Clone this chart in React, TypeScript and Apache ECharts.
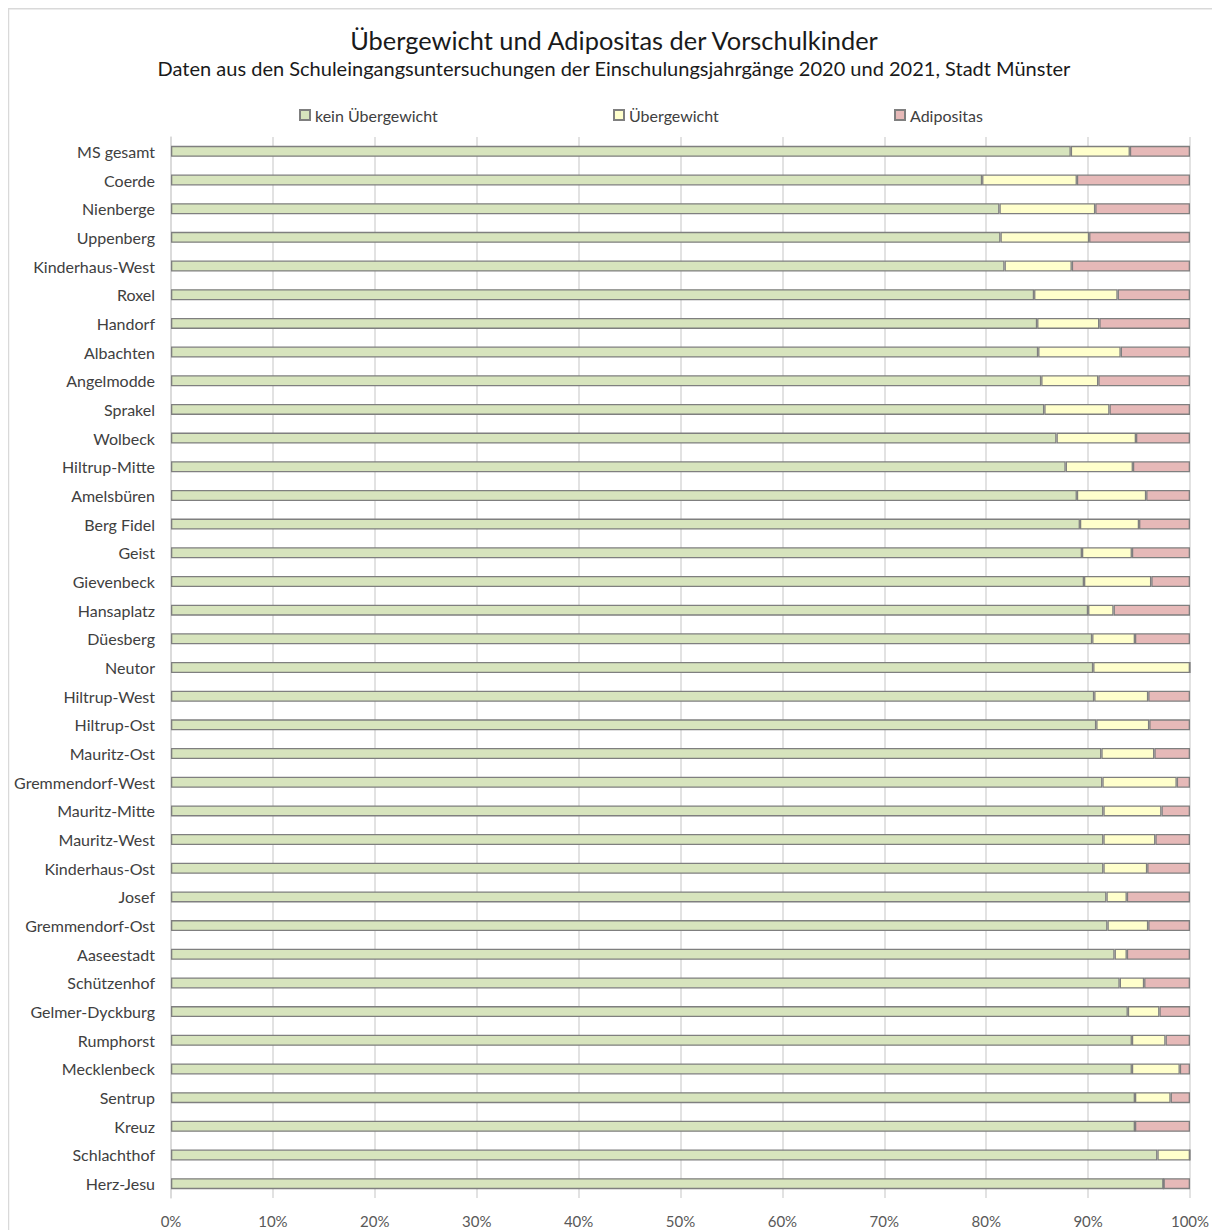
import React, { useEffect, useRef } from "react";
import * as echarts from "echarts";

const categories = [
  "MS gesamt", "Coerde", "Nienberge", "Uppenberg", "Kinderhaus-West", "Roxel", "Handorf",
  "Albachten", "Angelmodde", "Sprakel", "Wolbeck", "Hiltrup-Mitte", "Amelsbüren", "Berg Fidel",
  "Geist", "Gievenbeck", "Hansaplatz", "Düesberg", "Neutor", "Hiltrup-West", "Hiltrup-Ost",
  "Mauritz-Ost", "Gremmendorf-West", "Mauritz-Mitte", "Mauritz-West", "Kinderhaus-Ost", "Josef",
  "Gremmendorf-Ost", "Aaseestadt", "Schützenhof", "Gelmer-Dyckburg", "Rumphorst", "Mecklenbeck",
  "Sentrup", "Kreuz", "Schlachthof", "Herz-Jesu",
];

const keinUebergewicht = [
  88.3, 79.6, 81.3, 81.4, 81.8, 84.7, 85.0, 85.1, 85.4, 85.7, 86.9, 87.8, 88.9, 89.2, 89.4, 89.6,
  90.0, 90.4, 90.5, 90.6, 90.8, 91.3, 91.4, 91.5, 91.5, 91.5, 91.8, 91.9, 92.6, 93.1, 93.9, 94.3,
  94.3, 94.6, 94.6, 96.8, 97.4,
];

const uebergewicht = [
  5.8, 9.3, 9.4, 8.7, 6.6, 8.2, 6.1, 8.1, 5.6, 6.4, 7.8, 6.6, 6.8, 5.8, 4.9, 6.6,
  2.5, 4.2, 9.5, 5.3, 5.2, 5.2, 7.3, 5.7, 5.1, 4.3, 2.0, 4.0, 1.2, 2.4, 3.1, 3.3,
  4.7, 3.5, 0, 3.2, 0,
];

const adipositas = [
  5.9, 11.1, 9.3, 9.9, 11.6, 7.1, 8.9, 6.8, 9.0, 7.9, 5.3, 5.6, 4.3, 5.0, 5.7, 3.8,
  7.5, 5.4, 0, 4.1, 4.0, 3.5, 1.3, 2.8, 3.4, 4.2, 6.2, 4.1, 6.2, 4.5, 3.0, 2.4,
  1.0, 1.9, 5.4, 0, 2.6,
];

const xTicks = [0, 10, 20, 30, 40, 50, 60, 70, 80, 90, 100];

const FONT = "Lato, 'Open Sans', sans-serif";

export default function App() {
  const ref = useRef<HTMLDivElement>(null);

  useEffect(() => {
    document.documentElement.style.overflow = "hidden";
    document.body.style.overflow = "hidden";
    if (!ref.current) return;
    const chart = echarts.init(ref.current, null, { renderer: "svg" });
    const mkSeries = (name: string, data: number[], color: string) => ({
      name,
      type: "bar",
      stack: "total",
      data,
      barWidth: 11,
      itemStyle: { color, borderColor: "#7f7f7f", borderWidth: 1.3 },
      emphasis: { disabled: true },
    });
    const legendBase = {
      top: 94,
      itemWidth: 10,
      itemHeight: 10,
      icon: "rect",
      textStyle: { fontFamily: FONT, fontSize: 16, color: "#404040" },
      selectedMode: false,
    };
    chart.setOption({
      animation: false,
      backgroundColor: "#ffffff",
      title: [
        {
          text: "Übergewicht und Adipositas der Vorschulkinder",
          left: "center",
          top: 14,
          textStyle: { fontFamily: FONT, fontSize: 25.4, fontWeight: "normal", color: "#1a1a1a" },
        },
        {
          text: "Daten aus den Schuleingangsuntersuchungen der Einschulungsjahrgänge 2020 und 2021, Stadt Münster",
          left: "center",
          top: 45,
          textStyle: { fontFamily: FONT, fontSize: 20, fontWeight: "normal", color: "#1a1a1a" },
        },
      ],
      legend: [
        { ...legendBase, left: 286, data: ["kein Übergewicht"] },
        { ...legendBase, left: 600, data: ["Übergewicht"] },
        { ...legendBase, left: 881, data: ["Adipositas"] },
      ],
      grid: { left: 163, right: 30, top: 129, height: 1061, containLabel: false },
      xAxis: {
        type: "value",
        min: xTicks[0],
        max: xTicks[xTicks.length - 1],
        interval: 10,
        axisLine: { show: false },
        axisTick: { show: false },
        splitLine: { show: true, lineStyle: { color: "#d9d9d9", width: 1.5 } },
        axisLabel: {
          formatter: (v: number) => `${v}%`,
          fontFamily: FONT,
          fontSize: 15,
          color: "#595959",
          margin: 15,
        },
      },
      yAxis: {
        type: "category",
        data: categories,
        inverse: true,
        axisLine: { show: true, lineStyle: { color: "#d9d9d9", width: 1.5 } },
        axisTick: { show: false },
        axisLabel: {
          fontFamily: FONT,
          fontSize: 16,
          color: "#404040",
          margin: 16,
        },
      },
      graphic: [
        {
          type: "line",
          shape: { x1: 0, y1: 0.5, x2: 1212, y2: 0.5 },
          style: { stroke: "#d9d9d9", lineWidth: 2 },
          silent: true,
        },
        {
          type: "line",
          shape: { x1: 0.5, y1: 0, x2: 0.5, y2: 1222 },
          style: { stroke: "#d9d9d9", lineWidth: 1.5 },
          silent: true,
        },
      ],
      series: [
        mkSeries("kein Übergewicht", keinUebergewicht, "#d7e4bd"),
        mkSeries("Übergewicht", uebergewicht, "#ffffcc"),
        mkSeries("Adipositas", adipositas, "#e6b9b8"),
      ],
    });
    return () => chart.dispose();
  }, []);

  return <div ref={ref} style={{ width: 1212, height: 1222 }} />;
}
